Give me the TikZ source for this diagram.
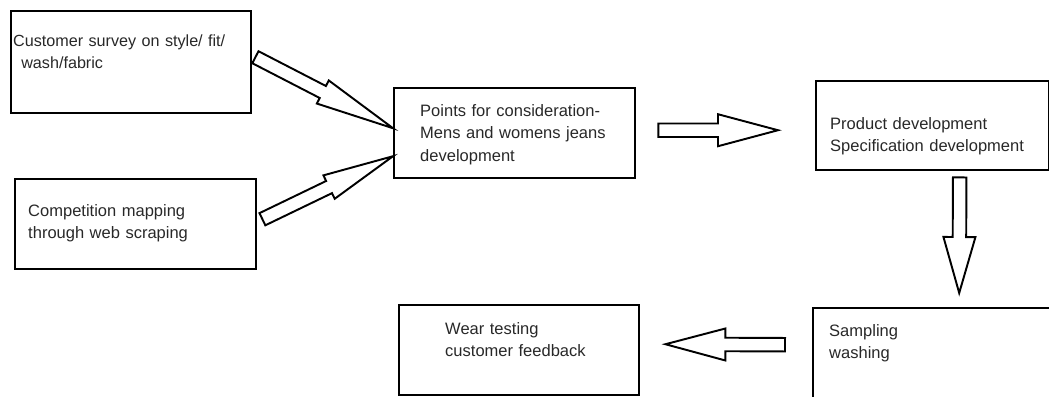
\documentclass[tikz,border=0pt]{standalone}
\usepackage{fontspec}
\setmainfont{Liberation Sans}
\usepackage{tikz}
\usetikzlibrary{calc}
\definecolor{textGray}{RGB}{40, 40, 40}

% hollow block arrow: head length, head half width, from, to
\newcommand{\blockarrow}[4]{%
  \coordinate (hb) at ($(#4)!#1!(#3)$);
  \draw[Hollow] ($(#3)!0.135cm!90:(#4)$) -- ($(hb)!0.135cm!90:(#4)$) -- ($(hb)!#2!90:(#4)$) -- (#4)
    -- ($(hb)!#2!-90:(#4)$) -- ($(hb)!0.135cm!-90:(#4)$) -- ($(#3)!0.135cm!-90:(#4)$) -- cycle;
}

\begin{document}
\begin{tikzpicture}
  [
    x=0.02cm, y=-0.02cm,
    Box/.style={draw=black, line width=1.4pt, anchor=north west, align=left, inner ysep=0pt, text=textGray, font=\fontsize{9.4pt}{12.9pt}\selectfont},
    Hollow/.style={draw=black, line width=1.1pt, line join=miter}
  ]
  \useasboundingbox (0,0) rectangle (1049,396);

  % Nodes
  \node[Box, font=\fontsize{9.2pt}{12.9pt}\selectfont, inner xsep=0.04cm, text width=4.72cm, text height=0.70cm, text depth=1.34cm] (survey) at (10, 10) {Customer survey on style/ fit/\\\hspace*{0.5em}wash/fabric};
  \node[Box, inner xsep=0.26cm, text width=4.30cm, text height=0.74cm, text depth=1.06cm] (comp) at (14, 178) {Competition mapping\\through web scraping};
  \node[Box, inner xsep=0.52cm, text width=3.78cm, text height=0.56cm, text depth=1.24cm] (points) at (393, 87) {Points for consideration-\\Mens and womens jeans\\development};
  \node[Box, inner xsep=0.28cm, text width=4.10cm, text height=0.96cm, text depth=0.82cm] (product) at (815, 80) {Product development\\Specification development};
  \node[Box, inner xsep=0.32cm, text width=4.32cm, text height=0.56cm, text depth=1.34cm] (sampling) at (812, 307) {Sampling\\washing};
  \node[Box, inner xsep=0.92cm, text width=2.96cm, text height=0.58cm, text depth=1.22cm] (wear) at (398, 304) {Wear testing\\customer feedback};

  % Arrow ends
  \coordinate (a1) at ($(survey.east)+(3,-5)$);
  \coordinate (b1) at ($(points.west)+(0,-5)$);
  \coordinate (a2) at ($(comp.east)+(5,-5)$);
  \coordinate (b2) at ($(points.west)+(0,23)$);
  \coordinate (a3) at ($(points.east)+(22,-3)$);
  \coordinate (b3) at ($(product.west)+(-37,4.5)$);
  \coordinate (a4) at ($(product.south)+(27,6)$);
  \coordinate (b4) at ($(sampling.north)+(22,-14)$);
  \coordinate (a5) at ($(sampling.west)+(-27,-11)$);
  \coordinate (b5) at ($(wear.east)+(25,-6)$);

  % Lines
  \blockarrow{1.58cm}{0.26cm}{a1}{b1}
  \blockarrow{1.42cm}{0.26cm}{a2}{b2}
  \blockarrow{1.2cm}{0.32cm}{a3}{b3}
  \blockarrow{1.12cm}{0.32cm}{a4}{b4}
  \blockarrow{1.2cm}{0.32cm}{a5}{b5}

\end{tikzpicture}
\end{document}
